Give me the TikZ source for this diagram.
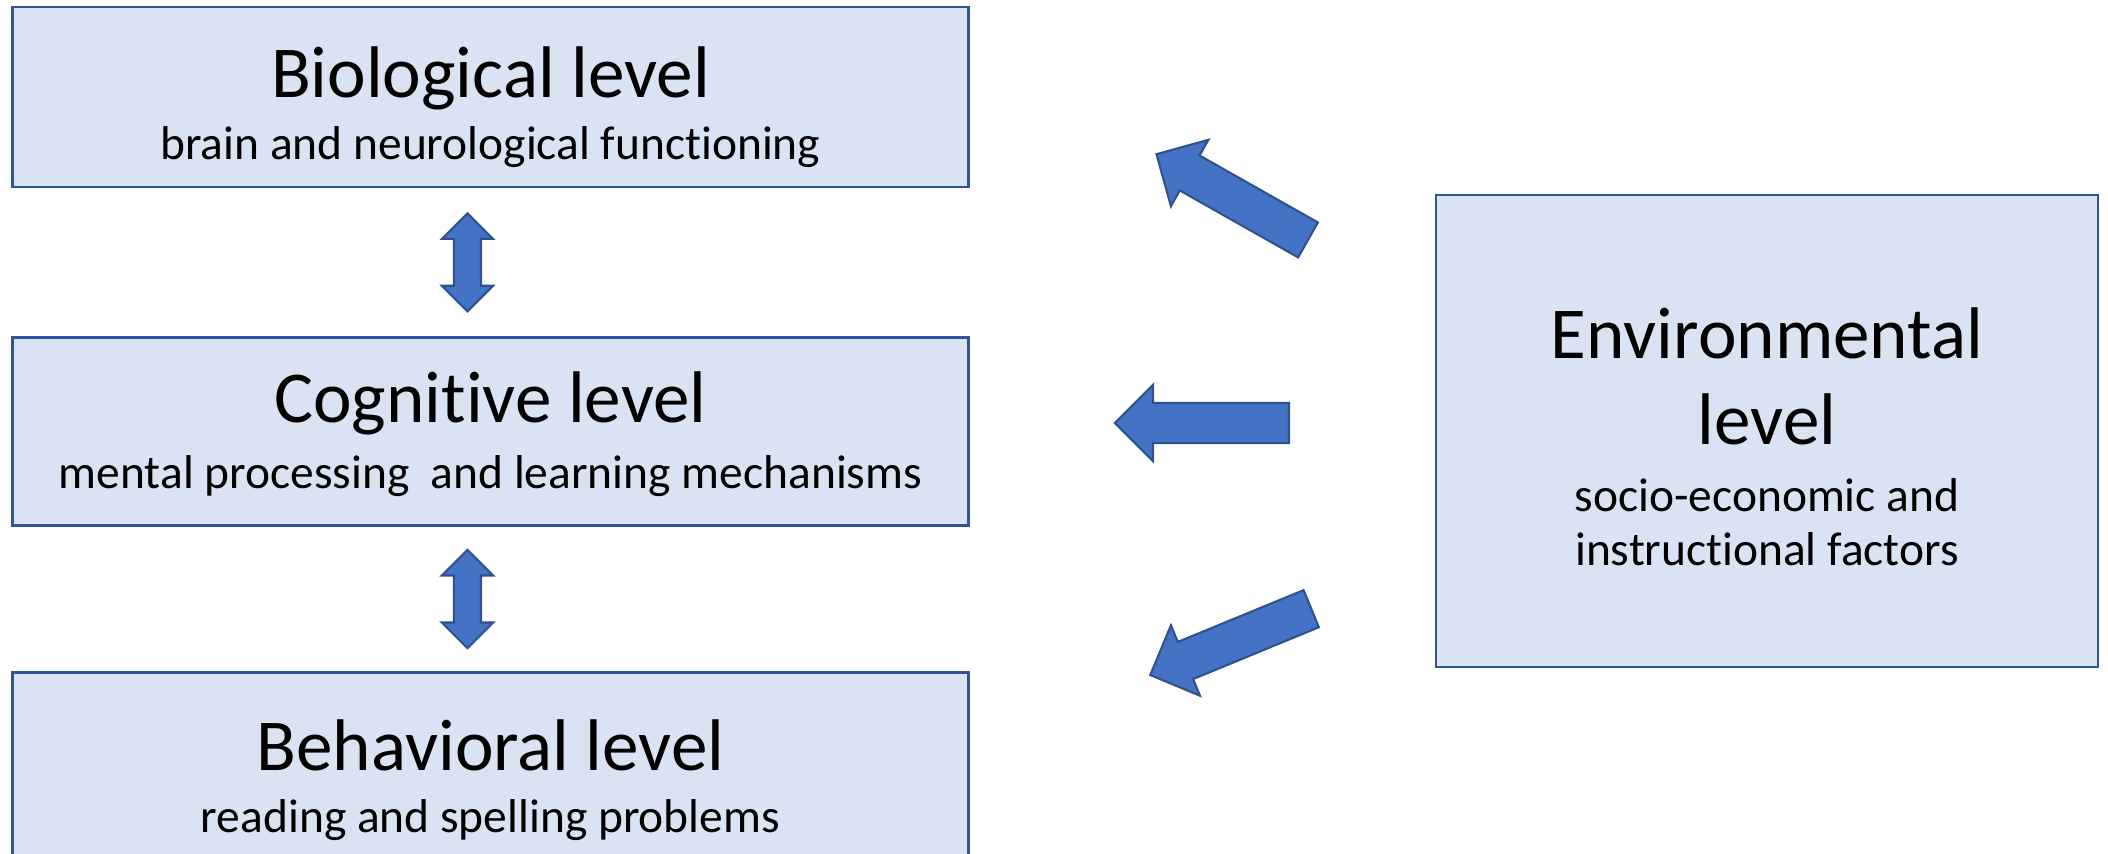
\documentclass[tikz,border=0pt]{standalone}
\usepackage{fontspec}
\setmainfont{Carlito}[RawFeature={-liga;-clig;-dlig;-calt}]
\usetikzlibrary{shapes.arrows, positioning, calc}
\definecolor{boxfill}{HTML}{DAE3F3}
\definecolor{boxline}{HTML}{2F5597}
\definecolor{arrfill}{HTML}{4472C4}
\definecolor{arrline}{HTML}{2F528F}
\newcommand{\titlefont}{\fontsize{20.8}{25}\selectfont}
\newcommand{\subfont}{\fontsize{13.5}{15.4}\selectfont}
\newcommand{\topstrut}[1]{\rule{0pt}{#1}}

\begin{document}
\begin{tikzpicture}[
    x=0.01cm, y=-0.01cm,
    level/.style={rectangle, draw=boxline, line width=0.7pt, fill=boxfill, minimum width=9.55cm, align=center, inner sep=0pt, font=\subfont},
    envbox/.style={level, minimum width=6.62cm, minimum height=4.72cm},
    bigarrow/.style={single arrow, draw=arrline, line width=0.6pt, fill=arrfill, minimum height=1.74cm, minimum width=0.74cm, single arrow head extend=0.18cm, inner sep=0.19cm},
    linkarrow/.style={double arrow, draw=arrline, line width=0.6pt, fill=arrfill, minimum height=0.98cm, minimum width=0.49cm, double arrow head extend=0.12cm, inner sep=0.125cm, rotate=90}
]
\useasboundingbox (0,0) rectangle (2108,853);

% --- Left column : the three levels ---
\node[level, minimum height=1.80cm] (bio) at (490.5,97) {{\titlefont\topstrut{20.2pt}Biological level}\\[2.4pt]{\subfont brain and neurological functioning}};
\node[level, minimum height=1.88cm, below=1.48cm of bio] (cog) {{\titlefont\topstrut{15.9pt}Cognitive level}\\[3.5pt]{\subfont mental processing\ \ and learning mechanisms}};
\node[level, minimum height=2.04cm, below=1.44cm of cog] (beh) {{\titlefont\topstrut{17.8pt}Behavioral level}\\[2.4pt]{\subfont reading and spelling problems}};

\node[linkarrow] (biocog) at ([xshift=-0.23cm] $(bio.south)!0.5!(cog.north)$) {};
\node[linkarrow] (cogbeh) at ([xshift=-0.23cm] $(cog.south)!0.5!(beh.north)$) {};

% --- Right : environment and its influence ---
\node[envbox] (env) at (1767,431) {{\titlefont\topstrut{17.8pt}Environmental}\\[9pt]{\titlefont level}\\[3.6pt]{\subfont socio-economic and}\\{\subfont instructional factors}};

\node[bigarrow, rotate=150.5] (envbio) at (1241,202) {};
\node[bigarrow, rotate=180] (envcog) at (1212,423) {};
\node[bigarrow, rotate=202.4] (envbeh) at (1240,638) {};
\end{tikzpicture}
\end{document}
